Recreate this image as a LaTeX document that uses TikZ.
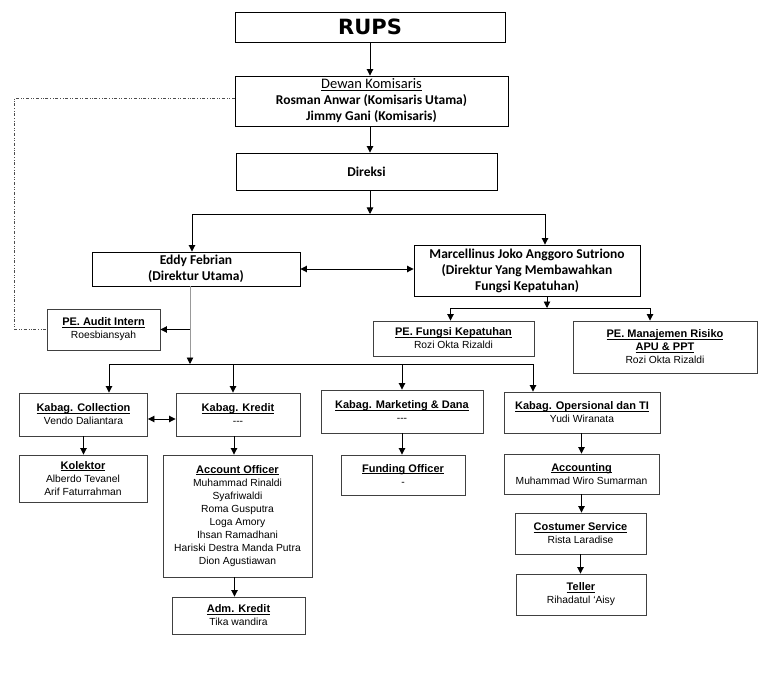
\documentclass[tikz,border=0pt]{standalone}
\usepackage{fontspec}
\setmainfont{Liberation Sans}
\newfontfamily\calibri{Carlito}
\newfontfamily\heavy{DejaVu Sans}
\usetikzlibrary{arrows.meta}

\newcommand{\uline}[1]{\setbox0\hbox{#1}\rlap{\rule[-1.4pt]{\wd0}{.75pt}}\box0}
\newcommand{\ttl}[1]{{\fontsize{11}{13}\selectfont\bfseries\uline{#1}}}

\begin{document}
\begin{tikzpicture}[x=1pt, y=-1pt,
  every node/.style={font=\fontsize{10.3}{13}\selectfont, align=center, inner sep=2pt},
  box/.style={draw=black!75, line width=.9pt},
  topbox/.style={draw, line width=.9pt, font=\calibri\bfseries\fontsize{13.5}{16}\selectfont},
  arr/.style={-{Triangle[length=6.5pt,width=6.5pt]}, line width=.9pt},
  darr/.style={{Triangle[length=6.5pt,width=6.5pt]}-{Triangle[length=6.5pt,width=6.5pt]}, line width=.9pt}]
  \useasboundingbox (0,0) rectangle (765,676);

  % top of the chart
  \node [topbox, minimum width=270, minimum height=30] (rups) at (370,27) {\heavy\fontsize{21}{21}\selectfont RUPS};
  \node [topbox, minimum width=273, minimum height=50] (dekom) at (371.5,101) {{\mdseries\fontsize{14.5}{16}\selectfont\uline{Dewan Komisaris}}\\ Rosman Anwar (Komisaris Utama)\\ Jimmy Gani (Komisaris)};
  \node [topbox, minimum width=261, minimum height=37] (direksi) at (366.5,171.5) {Direksi};
  \node [topbox, minimum width=208, minimum height=34] (dirut) at (196,269) {Eddy Febrian\\ (Direktur Utama)};
  \node [topbox, minimum width=226, minimum height=51] (dirkep) at (527,270.5) {Marcellinus Joko Anggoro Sutriono\\ (Direktur Yang Membawahkan\\ Fungsi Kepatuhan)};

  \node [box, minimum width=113, minimum height=41] (audit) at (103.5,329.5) {\ttl{PE. Audit Intern}\\ Roesbiansyah};
  \node [box, minimum width=161, minimum height=35] (kepatuhan) at (453.5,338.5) {\ttl{PE. Fungsi Kepatuhan}\\ Rozi Okta Rizaldi};
  \node [box, minimum width=184, minimum height=52] (risiko) at (665,347) {\ttl{PE. Manajemen Risiko}\\ \ttl{APU \& PPT}\\ Rozi Okta Rizaldi};

  % kabag
  \node [box, minimum width=128, minimum height=43] (collection) at (83.5,414.5) {\ttl{Kabag. Collection}\\ Vendo Daliantara};
  \node [box, minimum width=124, minimum height=43] (kredit) at (238,414.5) {\ttl{Kabag. Kredit}\\ {-}{-}{-}};
  \node [box, minimum width=162, minimum height=43] (marketing) at (402,411.5) {\ttl{Kabag. Marketing \& Dana}\\ {-}{-}{-}};
  \node [box, minimum width=156, minimum height=41] (operasional) at (582,412.5) {\ttl{Kabag. Opersional dan TI}\\ Yudi Wiranata};

  % staff
  \node [box, minimum width=128, minimum height=47] (kolektor) at (83,478.5) {\ttl{Kolektor}\\ Alberdo Tevanel\\ Arif Faturrahman};
  \node [box, minimum width=149, minimum height=122] (ao) at (237.5,516) {\ttl{Account Officer}\\ Muhammad Rinaldi\\ Syafriwaldi\\ Roma Gusputra\\ Loga Amory\\ Ihsan Ramadhani\\ Hariski Destra Manda Putra\\ Dion Agustiawan};
  \node [box, minimum width=133, minimum height=37] (admkredit) at (238.5,615.5) {\ttl{Adm. Kredit}\\ Tika wandira};
  \node [box, minimum width=124, minimum height=40] (funding) at (403,475) {\ttl{Funding Officer}\\ -};
  \node [box, minimum width=155, minimum height=40] (accounting) at (581.5,474) {\ttl{Accounting}\\ Muhammad Wiro Sumarman};
  \node [box, minimum width=131, minimum height=41] (cs) at (580.5,533.5) {\ttl{Costumer Service}\\ Rista Laradise};
  \node [box, minimum width=130, minimum height=41] (teller) at (581,594.5) {\ttl{Teller}\\ Rihadatul ‘Aisy};

  \coordinate (b1) at (370,214);
  \coordinate (b2) at (190,364);
  \coordinate (b3) at (547,308);

  \draw [arr] (rups.south) -- (rups.south |- dekom.north);
  \draw [arr] (rups.south |- dekom.south) -- (rups.south |- direksi.north);
  \draw [arr] (b1 |- direksi.south) -- (b1);
  \draw [arr] (b1) -| ([xshift=-4pt]dirut.north);
  \draw [arr] (b1) -| ([xshift=18pt]dirkep.north);
  \draw [darr] (dirut.east) -- (dirut.east -| dirkep.west);
  \draw [dash dot dot, black!70, line width=.7pt] ([yshift=3pt]dekom.west) -- ++(-220,0) |- (audit.west);

  \draw [arr, black!40, -{Triangle[length=6.5pt,width=6.5pt,color=black]}] (b2 |- dirut.south) -- (b2);
  \draw [arr] (audit.east -| b2) -- (audit.east);
  \draw [arr] (b3 |- dirkep.south) -- (b3);
  \draw [arr] (b3) -| ([xshift=-3pt]kepatuhan.north);
  \draw [arr] (b3) -| ([xshift=-15pt]risiko.north);

  \draw [arr] (b2) -| ([xshift=25.5pt]collection.north);
  \draw [arr] (b2) -| ([xshift=-5pt]kredit.north);
  \draw [arr] (b2) -| (marketing.north);
  \draw [arr] (b2) -| ([xshift=-49pt]operasional.north);
  \draw [darr] ([yshift=-4.5pt]collection.east) -- ([yshift=-4.5pt]kredit.west);

  \draw [arr] (collection.south) -- (collection.south |- kolektor.north);
  \draw [arr] ([xshift=-4pt]kredit.south) -- ([xshift=-4pt]kredit.south |- ao.north);
  \draw [arr] ([xshift=-3pt]ao.south) -- ([xshift=-3pt]ao.south |- admkredit.north);
  \draw [arr] (marketing.south) -- (marketing.south |- funding.north);
  \draw [arr] (accounting.north |- operasional.south) -- (accounting.north);
  \draw [arr] (accounting.south) -- (accounting.south |- cs.north);
  \draw [arr] (cs.south) -- (cs.south |- teller.north);
\end{tikzpicture}
\end{document}
